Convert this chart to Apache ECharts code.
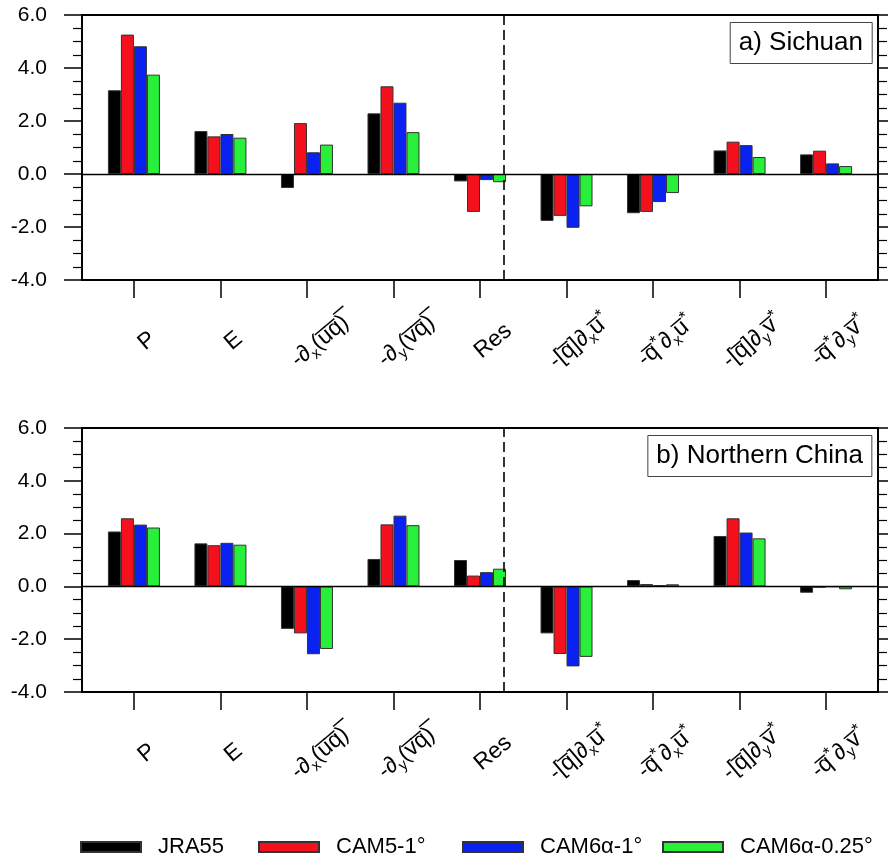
<!DOCTYPE html>
<html>
<head>
<meta charset="utf-8">
<script src="https://cdn.jsdelivr.net/npm/echarts@6/dist/echarts.min.js"></script>
<style>
  html, body { margin: 0; padding: 0; background: #fff; }
  #chart { width: 888px; height: 862px; }
</style>
</head>
<body>
<div id="chart"></div>
<script>
// x positions of the nine budget terms
const positions = [1, 2, 3, 4, 5, 6, 7, 8, 9];
const OL = '\u0305'; // combining overline
const categories = [
  'P',
  'E',
  '-∂{sub|x}(u' + OL + 'q' + OL + ')' + OL,
  '-∂{sub|y}(v' + OL + 'q' + OL + ')' + OL,
  'Res',
  '-[q' + OL + ']∂{sub|x}u' + OL + '{sup|*}',
  '-q' + OL + '{sup|*}∂{sub|x}u' + OL + '{sup|*}',
  '-[q' + OL + ']∂{sub|y}v' + OL + '{sup|*}',
  '-q' + OL + '{sup|*}∂{sub|y}v' + OL + '{sup|*}'
];
const yTicks = [-4, -2, 0, 2, 4, 6];
const seriesNames = ['JRA55', 'CAM5-1°', 'CAM6α-1°', 'CAM6α-0.25°'];

// a) Sichuan
const sichuanJRA55 = [3.16, 1.62, -0.53, 2.29, -0.28, -1.77, -1.48, 0.89, 0.74];
const sichuanCAM5 = [5.26, 1.42, 1.92, 3.31, -1.43, -1.58, -1.43, 1.22, 0.88];
const sichuanCAM6 = [4.82, 1.51, 0.82, 2.69, -0.23, -2.03, -1.06, 1.09, 0.40];
const sichuanCAM6q = [3.75, 1.37, 1.11, 1.58, -0.31, -1.22, -0.72, 0.64, 0.30];

// b) Northern China
const northJRA55 = [2.08, 1.63, -1.61, 1.04, 1.00, -1.78, 0.24, 1.91, -0.24];
const northCAM5 = [2.58, 1.56, -1.78, 2.35, 0.41, -2.56, 0.09, 2.58, -0.05];
const northCAM6 = [2.34, 1.65, -2.57, 2.68, 0.54, -3.03, 0.05, 2.04, -0.02];
const northCAM6q = [2.23, 1.58, -2.37, 2.32, 0.67, -2.67, 0.08, 1.82, -0.11];

const colors = ['#000000', '#f5101e', '#0a22f0', '#28f03a'];
const legendLefts = [75, 253, 457, 657];

const chart = echarts.init(document.getElementById('chart'));

function pairs(vals) {
  return positions.map((x, i) => [x, vals[i]]);
}

function xAxis(gridIndex) {
  return {
    type: 'value', gridIndex: gridIndex, min: 0.4, max: 9.6,
    axisLine: {show: true, onZero: false, lineStyle: {color: '#000', width: 1.8}},
    axisTick: {show: true, inside: false, length: 18, customValues: positions,
      lineStyle: {color: '#000', width: 1.5}},
    splitLine: {show: false},
    axisLabel: {
      customValues: positions,
      formatter: v => categories[Math.round(v) - 1],
      rotate: 40, align: 'center', verticalAlign: 'middle',
      margin: 72, padding: [0, 0, 0, 34],
      color: '#000', fontSize: 23, lineHeight: 30,
      fontFamily: 'Liberation Sans, DejaVu Sans, sans-serif',
      rich: {
        sub: {fontSize: 15, lineHeight: 13, verticalAlign: 'bottom', color: '#000'},
        sup: {fontSize: 17, lineHeight: 13, verticalAlign: 'top', color: '#000'}
      }
    }
  };
}

function yAxis(gridIndex, side) {
  return {
    type: 'value', gridIndex: gridIndex, position: side,
    min: -4, max: 6, interval: 2,
    axisLine: {show: true, lineStyle: {color: '#000', width: 1.8}},
    axisTick: {show: true, inside: false, length: 18, lineStyle: {color: '#000', width: 1.5}},
    minorTick: {show: true, splitNumber: 4, length: 9, lineStyle: {color: '#000', width: 1.2}},
    splitLine: {show: false},
    axisLabel: {
      show: side === 'left', margin: 35, color: '#000', fontSize: 21,
      fontFamily: 'Liberation Sans, sans-serif',
      formatter: v => v.toFixed(1)
    }
  };
}

function bars(panel, vals) {
  return vals.map((v, k) => ({
    name: seriesNames[k], type: 'bar',
    xAxisIndex: panel, yAxisIndex: panel * 2,
    data: pairs(v), barWidth: 13, barGap: '0%',
    itemStyle: {color: colors[k], borderColor: '#333', borderWidth: 1},
    markLine: k === 0 ? {
      silent: true, symbol: 'none', label: {show: false}, animation: false,
      data: [
        {yAxis: 0, lineStyle: {color: '#000', width: 1.4, type: 'solid'}},
        {xAxis: 5.5, lineStyle: {color: '#000', width: 1.6, type: [10, 5]}}
      ]
    } : undefined
  }));
}

const titleStyle = {fontSize: 26, fontWeight: 'normal', color: '#000',
  fontFamily: 'Liberation Sans, sans-serif'};

chart.setOption({
  animation: false,
  title: [
    {text: 'a) Sichuan', right: 16, top: 22, padding: [8, 9, 8, 9],
      borderColor: '#444', borderWidth: 1, textStyle: titleStyle},
    {text: 'b) Northern China', right: 16, top: 435, padding: [8, 9, 8, 9],
      borderColor: '#444', borderWidth: 1, textStyle: titleStyle}
  ],
  legend: seriesNames.map((n, i) => ({
    data: [n], left: legendLefts[i], top: 831, icon: 'rect',
    itemWidth: 60, itemHeight: 10,
    textStyle: {fontSize: 22, color: '#000', padding: [0, 0, 0, 12],
      fontFamily: 'Liberation Sans, sans-serif'}
  })),
  grid: [
    {left: 82, right: 10, top: 15, height: 265, show: true, borderColor: '#000', borderWidth: 1.8},
    {left: 82, right: 10, top: 428, height: 264, show: true, borderColor: '#000', borderWidth: 1.8}
  ],
  xAxis: [xAxis(0), xAxis(1)],
  yAxis: [yAxis(0, 'left'), yAxis(0, 'right'), yAxis(1, 'left'), yAxis(1, 'right')],
  series: [
    ...bars(0, [sichuanJRA55, sichuanCAM5, sichuanCAM6, sichuanCAM6q]),
    ...bars(1, [northJRA55, northCAM5, northCAM6, northCAM6q])
  ]
});
</script>
</body>
</html>
